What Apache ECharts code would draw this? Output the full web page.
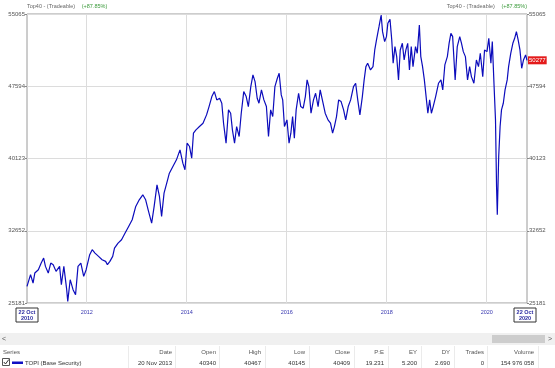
<!DOCTYPE html>
<html><head><meta charset="utf-8">
<script src="https://cdn.jsdelivr.net/npm/echarts@6/dist/echarts.min.js"></script>
<style>html,body{margin:0;padding:0;background:#fff}#c{width:555px;height:368px}</style>
</head><body><div id="c"></div>
<script>
// ---- data ----
const years = [2010.805,2010.876,2010.926,2010.961,2011.032,2011.089,2011.138,2011.174,2011.230,2011.280,2011.329,2011.386,2011.457,2011.492,2011.542,2011.599,2011.620,2011.669,2011.726,2011.776,2011.825,2011.882,2011.939,2011.988,2012.059,2012.109,2012.165,2012.236,2012.307,2012.378,2012.413,2012.463,2012.519,2012.555,2012.626,2012.696,2012.767,2012.838,2012.909,2012.980,2013.050,2013.121,2013.178,2013.228,2013.298,2013.348,2013.405,2013.454,2013.497,2013.546,2013.617,2013.652,2013.723,2013.794,2013.865,2013.922,2013.964,2014.007,2014.056,2014.099,2014.134,2014.184,2014.254,2014.325,2014.396,2014.446,2014.502,2014.552,2014.601,2014.658,2014.701,2014.736,2014.786,2014.835,2014.878,2014.913,2014.956,2014.998,2015.048,2015.090,2015.140,2015.189,2015.232,2015.281,2015.324,2015.366,2015.409,2015.444,2015.494,2015.543,2015.593,2015.635,2015.678,2015.720,2015.763,2015.812,2015.848,2015.890,2015.919,2015.954,2016.004,2016.046,2016.082,2016.117,2016.152,2016.188,2016.237,2016.280,2016.329,2016.372,2016.407,2016.443,2016.485,2016.535,2016.577,2016.627,2016.669,2016.712,2016.769,2016.825,2016.875,2016.917,2016.953,2016.995,2017.038,2017.087,2017.137,2017.179,2017.229,2017.278,2017.335,2017.378,2017.420,2017.463,2017.512,2017.548,2017.583,2017.618,2017.675,2017.725,2017.760,2017.795,2017.845,2017.888,2017.916,2017.958,2017.994,2018.022,2018.065,2018.100,2018.128,2018.164,2018.199,2018.235,2018.270,2018.312,2018.348,2018.383,2018.419,2018.454,2018.490,2018.525,2018.575,2018.610,2018.652,2018.681,2018.716,2018.752,2018.787,2018.822,2018.858,2018.893,2018.929,2018.978,2019.035,2019.084,2019.120,2019.162,2019.212,2019.247,2019.283,2019.318,2019.368,2019.410,2019.460,2019.495,2019.531,2019.573,2019.616,2019.658,2019.693,2019.743,2019.793,2019.835,2019.871,2019.920,2019.956,2020.005,2020.041,2020.083,2020.111,2020.147,2020.175,2020.196,2020.211,2020.239,2020.267,2020.295,2020.331,2020.366,2020.409,2020.437,2020.480,2020.522,2020.558,2020.593,2020.628,2020.664,2020.699,2020.735,2020.777,2020.805];
const values = [26900,28110,27245,28278,28623,29311,29828,28967,28278,29311,29139,28450,28967,27073,28967,26557,25352,27590,26557,26040,28967,29311,27934,28623,30172,30689,30344,30000,29656,29483,29139,29483,30000,30861,31377,31721,32410,33099,33787,35165,35853,36370,35853,34820,33443,35165,37402,36197,34132,36542,37919,38607,39296,39985,41018,39640,38952,41706,41362,40157,42739,43084,43427,43772,44633,45493,46526,47043,46182,46354,45838,43772,41706,45149,44805,43084,41706,43427,42394,44805,47043,46526,45493,47559,48764,48076,46354,45838,47216,46182,45493,42394,45149,44461,47559,48420,48935,46698,46182,43427,44116,41706,42739,44461,42222,45149,46871,45493,45321,46526,48248,47559,44805,46182,46871,45493,47216,46182,44805,44116,43772,42739,43427,44461,46182,46010,45149,44116,45493,46182,47559,47904,46182,44633,46526,48248,49625,49969,49281,49625,51347,52379,53757,54962,53240,52207,52724,54101,54514,52379,49969,51691,50658,48248,51347,52035,50314,51347,52035,49281,51691,49625,51691,51002,53929,50658,49625,48248,46526,44805,46182,44805,45493,46526,47904,48248,47216,49797,50658,52035,53068,52724,48248,51691,52724,52035,51174,50658,48248,49625,48592,47904,50314,49625,51002,48592,51347,51174,52552,49969,52207,47559,44116,37230,34304,40329,43427,45149,45838,47216,48248,49625,51002,52035,52552,53240,52379,51347,49453,50314,50830,50277];
const yearTicks = [2012, 2014, 2016, 2018, 2020];
const startDateLabel = ['22 Oct', '2010'];
const endDateLabel = ['22 Oct', '2020'];
const yMin = 25181, yMax = 55065, yStep = 7471;
const lastValueLabel = '50277';
const titleMain = 'Top40 - (Tradeable)';
const titleChange = '(+87.85%)';
const tableHeaders = ['Series','Date','Open','High','Low','Close','P:E','EY','DY','Trades','Volume'];
const tableRow = ['TOPI (Base Security)','20 Nov 2013','40340','40467','40145','40409','19.231','5.200','2.690','0','154 976 058'];

const FONT = 'Liberation Sans, Arial, sans-serif';
const lineColor = '#0c0cbc';
const chart = echarts.init(document.getElementById('c'), null, {renderer: 'canvas'});

const yAxisBase = {
  type: 'value', min: yMin, max: yMax, interval: yStep,
  axisLine: {show: false},
  axisTick: {show: true, length: 2, lineStyle: {color: '#888'}},
  axisLabel: {fontSize: 6, color: '#555', fontFamily: FONT, margin: 2, formatter: v => String(Math.round(v))},
};

chart.setOption({
  animation: false,
  backgroundColor: '#fff',
  grid: {left: 27, right: 28, top: 14, bottom: 65, show: true, borderColor: '#9a9a9a', borderWidth: 1, containLabel: false},
  xAxis: {
    type: 'value', min: years[0], max: years[years.length - 1],
    axisLine: {show: false},
    axisTick: {show: true, length: 0, customValues: yearTicks},
    axisLabel: {customValues: yearTicks, formatter: v => String(Math.round(v)), fontSize: 5.5, color: '#3838b0', fontFamily: FONT, margin: 6},
    splitLine: {show: true, lineStyle: {color: '#dcdcdc', width: 1}}
  },
  yAxis: [
    Object.assign({}, yAxisBase, {position: 'left', splitLine: {show: true, lineStyle: {color: '#dcdcdc'}}}),
    Object.assign({}, yAxisBase, {position: 'right', splitLine: {show: false}})
  ],
  series: [{
    type: 'line',
    data: years.map((y, i) => [y, values[i]]),
    showSymbol: false,
    lineStyle: {color: lineColor, width: 1.2},
    endLabel: {show: true, formatter: lastValueLabel, backgroundColor: '#e41b1b', color: '#fff', fontSize: 6, fontFamily: FONT, padding: [1, 1], distance: 1}
  }]
});

// ----- annotation / table graphics -----
const p0 = chart.convertToPixel({xAxisIndex: 0, yAxisIndex: 0}, [years[0], yMin]);
const p1 = chart.convertToPixel({xAxisIndex: 0, yAxisIndex: 0}, [years[years.length - 1], yMax]);
const plotL = p0[0], plotB = p0[1], plotR = p1[0], plotT = p1[1];

function dateBox(cx, lines) {
  return {
    type: 'group', x: cx, y: plotB + 5,
    children: [
      {type: 'rect', shape: {x: -11, y: 0, width: 22, height: 14}, style: {fill: '#fff', stroke: '#333', lineWidth: 1}},
      {type: 'text', style: {x: 0, y: 1, text: lines.join('\n'), fill: '#2a2aa0', font: 'bold 5.5px ' + FONT, align: 'center', verticalAlign: 'top', lineHeight: 6.5}}
    ]
  };
}

const colRight = [null, 172, 216, 261, 305, 350, 384, 417, 450, 484, 534];
const seps = [128, 175, 219, 265, 309, 354, 388, 421, 454, 487, 538];
const g = [];
// titles
g.push({type: 'text', x: plotL, y: 6, style: {text: '{a|' + titleMain + '}  {g|' + titleChange + '}', verticalAlign: 'middle', align: 'left',
  rich: {a: {fontSize: 5.5, fill: '#666', fontFamily: FONT}, g: {fontSize: 5.5, fill: '#3a9a3a', fontFamily: FONT}}}});
g.push({type: 'text', x: plotR, y: 6, style: {text: '{a|' + titleMain + '}  {g|' + titleChange + '}', verticalAlign: 'middle', align: 'right',
  rich: {a: {fontSize: 5.5, fill: '#666', fontFamily: FONT}, g: {fontSize: 5.5, fill: '#3a9a3a', fontFamily: FONT}}}});
// date boxes
g.push(dateBox(plotL, startDateLabel));
g.push(dateBox(plotR - 2, endDateLabel));
// scrollbar row
g.push({type: 'rect', shape: {x: 0, y: 333, width: 555, height: 12}, style: {fill: '#f0f0f0'}});
g.push({type: 'rect', shape: {x: 492, y: 335, width: 53, height: 8}, style: {fill: '#cdcdcd'}});
g.push({type: 'text', x: 4, y: 339, style: {text: '<', fill: '#555', font: '7px ' + FONT, align: 'center', verticalAlign: 'middle'}});
g.push({type: 'text', x: 550, y: 339, style: {text: '>', fill: '#555', font: '7px ' + FONT, align: 'center', verticalAlign: 'middle'}});
// column separators
seps.forEach(x => g.push({type: 'line', shape: {x1: x + 0.5, y1: 346, x2: x + 0.5, y2: 368}, style: {stroke: '#ebebeb', lineWidth: 1}}));
// header
tableHeaders.forEach((h, i) => {
  if (i === 0) g.push({type: 'text', x: 3, y: 352, style: {text: h, fill: '#555', font: '6px ' + FONT, align: 'left', verticalAlign: 'middle'}});
  else g.push({type: 'text', x: colRight[i], y: 352, style: {text: h, fill: '#555', font: '6px ' + FONT, align: 'right', verticalAlign: 'middle'}});
});
// data row
g.push({type: 'rect', shape: {x: 2.5, y: 358.5, width: 7, height: 7}, style: {fill: '#fff', stroke: '#555', lineWidth: 1}});
g.push({type: 'polyline', shape: {points: [[3.8, 362], [5.5, 364], [8.8, 359.5]]}, style: {stroke: '#333', lineWidth: 1, fill: null}});
g.push({type: 'rect', shape: {x: 12, y: 361.5, width: 11, height: 2.5}, style: {fill: '#1010c4'}});
tableRow.forEach((v, i) => {
  if (i === 0) g.push({type: 'text', x: 25, y: 363, style: {text: v, fill: '#333', font: '6px ' + FONT, align: 'left', verticalAlign: 'middle'}});
  else g.push({type: 'text', x: colRight[i], y: 363, style: {text: v, fill: '#333', font: '6px ' + FONT, align: 'right', verticalAlign: 'middle'}});
});
chart.setOption({graphic: g});
</script>
</body></html>
